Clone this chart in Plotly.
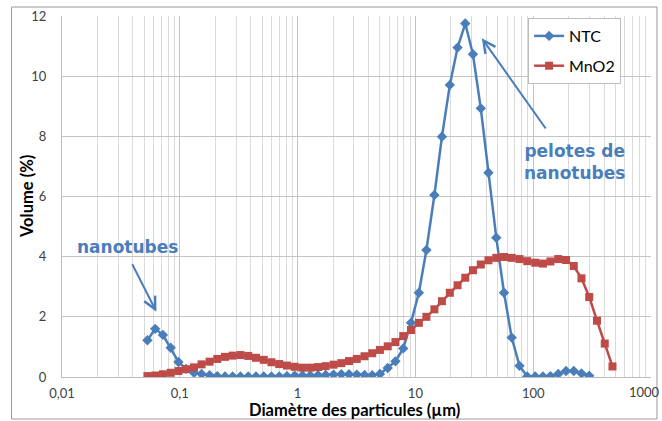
import plotly.graph_objects as go

# Particle diameters (µm), log-spaced size classes
diametre = [0.0531, 0.0618, 0.0719, 0.0837, 0.0974, 0.113, 0.132, 0.153, 0.179, 0.208,
            0.242, 0.281, 0.327, 0.381, 0.443, 0.516, 0.600, 0.698, 0.812, 0.945,
            1.10, 1.28, 1.49, 1.73, 2.02, 2.35, 2.73, 3.18, 3.70, 4.30,
            5.00, 5.82, 6.77, 7.88, 9.17, 10.7, 12.4, 14.5, 16.8, 19.6,
            22.8, 26.5, 30.8, 35.9, 41.7, 48.6, 56.5, 65.7, 76.5, 89.0,
            104, 121, 140, 163, 190, 221, 257, 299, 348, 405, 471]

# Volume distribution (%) - carbon nanotubes
ntc = [1.22, 1.60, 1.40, 0.97, 0.50, 0.27, 0.14, 0.10, 0.06, 0.03,
       0.02, 0.02, 0.02, 0.02, 0.02, 0.02, 0.02, 0.02, 0.03, 0.04,
       0.05, 0.05, 0.06, 0.07, 0.08, 0.09, 0.09, 0.08, 0.07, 0.06,
       0.10, 0.30, 0.52, 0.95, 1.80, 2.80, 4.22, 6.05, 7.99, 9.71,
       10.95, 11.75, 10.73, 8.93, 6.79, 4.63, 2.80, 1.31, 0.37, 0.02,
       0.02, 0.02, 0.03, 0.10, 0.20, 0.20, 0.12, 0.04]

# Volume distribution (%) - MnO2
mno2 = [0.03, 0.05, 0.09, 0.14, 0.20, 0.26, 0.32, 0.42, 0.51, 0.60,
        0.67, 0.71, 0.73, 0.70, 0.64, 0.57, 0.49, 0.43, 0.38, 0.34,
        0.31, 0.31, 0.33, 0.36, 0.41, 0.46, 0.53, 0.60, 0.69, 0.79,
        0.90, 1.02, 1.16, 1.36, 1.56, 1.80, 2.00, 2.25, 2.52, 2.80,
        3.05, 3.30, 3.55, 3.74, 3.88, 3.96, 3.99, 3.96, 3.92, 3.85,
        3.80, 3.77, 3.84, 3.92, 3.89, 3.69, 3.28, 2.66, 1.87, 1.11, 0.35]

x_tickvals = [0.01, 0.1, 1, 10, 100, 1000]
x_ticktext = ["0,01", "0,1", "1", "10", "100", "1000"]
y_tickvals = [0, 2, 4, 6, 8, 10, 12]

BLUE = "#4a7ebb"
RED = "#be4b48"
TICK_FONT = dict(family="Lato, Carlito, sans-serif", size=13, color="#404040")
TITLE_FONT = dict(family="Lato, Carlito, sans-serif", size=16.5, color="#000000")
NOTE_FONT = dict(family="DejaVu Sans", size=17, color=BLUE)

# Plot-area geometry (pixels)
L, T, W, H = 61.5, 16, 589.5, 361
FW, FH = 662, 421


def px_x(px):
    return (px - L) / W


def px_y(py):
    return (T + H - py) / H


fig = go.Figure()
fig.add_trace(go.Scatter(
    x=diametre[:len(ntc)], y=ntc, name="NTC", mode="lines+markers",
    legendgroup="a",
    line=dict(color=BLUE, width=2.5),
    marker=dict(symbol="diamond", size=8, color=BLUE),
))
fig.add_trace(go.Scatter(
    x=diametre[:len(mno2)], y=mno2, name="MnO2", mode="lines+markers",
    legendgroup="b",
    line=dict(color=RED, width=2.5),
    marker=dict(symbol="square", size=8, color=RED),
))

# Callouts
fig.add_annotation(x=-1.1985, y=2.17, ax=-1.41, ay=3.80, xref="x", yref="y",
                   axref="x", ayref="y", text="", showarrow=True,
                   arrowhead=5, arrowsize=1.2, arrowwidth=2, arrowcolor=BLUE)
fig.add_annotation(x=1.564, y=11.26, ax=2.115, ay=8.21, xref="x", yref="y",
                   axref="x", ayref="y", text="", showarrow=True,
                   arrowhead=5, arrowsize=1.2, arrowwidth=2, arrowcolor=BLUE)
fig.add_annotation(x=-1.44, y=4.32, xref="x", yref="y", text="<b>nanotubes</b>",
                   showarrow=False, font=NOTE_FONT)
fig.add_annotation(x=2.351, y=7.16, xref="x", yref="y",
                   text="<b>pelotes de<br>nanotubes</b>",
                   showarrow=False, font=NOTE_FONT, align="center")

# Axis titles
fig.add_annotation(x=px_x(354), y=px_y(421), xref="paper", yref="paper",
                   xanchor="center", yanchor="bottom", showarrow=False, borderpad=0,
                   text="<b>Diamètre des particules (µm)</b>", font=TITLE_FONT)
fig.add_annotation(x=px_x(26), y=px_y(T + H / 2), xref="paper", yref="paper",
                   xanchor="center", yanchor="middle", showarrow=False, textangle=-90,
                   text="<b>Volume (%)</b>", font=TITLE_FONT)

# Last decade label, kept inside the right edge of the figure
fig.add_annotation(x=px_x(661), y=px_y(392), xref="paper", yref="paper",
                   xanchor="right", yanchor="middle", showarrow=False, borderpad=0,
                   text=x_ticktext[-1], font=TICK_FONT)

# Outer chart frame
fig.add_shape(type="rect", xref="paper", yref="paper",
              x0=px_x(11), x1=px_x(657), y0=px_y(419), y1=px_y(7),
              line=dict(color="#9a9a9a", width=1), layer="below")

fig.update_xaxes(
    type="log", range=[-2, 3], automargin=False,
    tickvals=x_tickvals[:-1], ticktext=x_ticktext[:-1],
    showgrid=True, gridcolor="#c4c4c4", gridwidth=1,
    minor=dict(dtick="D1", showgrid=True, gridcolor="#dadada", ticks=""),
    showline=True, linecolor="#bdbdbd", linewidth=1,
    ticks="", ticklabelstandoff=4, tickfont=TICK_FONT,
    zeroline=False,
)
fig.update_yaxes(
    range=[0, 12], tickvals=y_tickvals, automargin=False,
    showgrid=True, gridcolor="#c4c4c4", gridwidth=1,
    showline=True, linecolor="#bdbdbd", linewidth=1,
    ticks="", ticklabelstandoff=12, tickfont=TICK_FONT,
    zeroline=False,
)

fig.update_layout(
    width=FW, height=FH,
    margin=dict(l=L, r=FW - L - W, t=T, b=FH - T - H, autoexpand=False),
    paper_bgcolor="white", plot_bgcolor="white",
    showlegend=True,
    legend=dict(x=px_x(528), y=px_y(18), xanchor="left", yanchor="top",
                bgcolor="white", bordercolor="#bdbdbd", borderwidth=1,
                font=dict(family="Lato, Carlito, sans-serif", size=16, color="#000000"),
                tracegroupgap=6, traceorder="grouped", itemwidth=30),
)

fig.write_html("out.html")
